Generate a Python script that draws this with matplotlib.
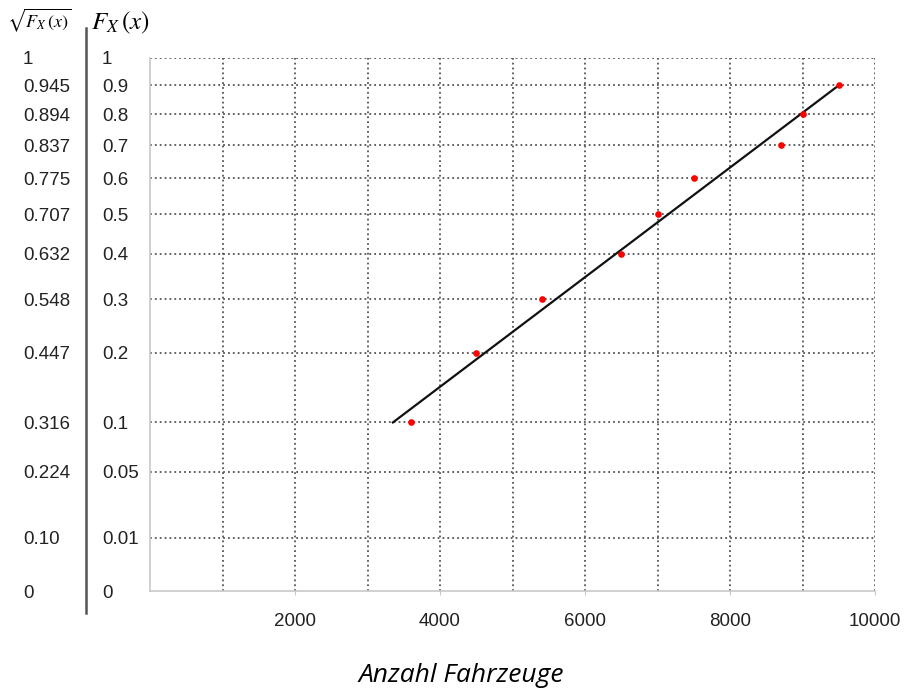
import numpy as np
import matplotlib
matplotlib.use("Agg")
import matplotlib.pyplot as plt
from matplotlib.transforms import blended_transform_factory, ScaledTranslation

# --- Datos ---
fahrzeuge = [3600, 4500, 5400, 6500, 7000, 7500, 8700, 9000, 9500]
f_werte = [0.1, 0.2, 0.3, 0.4, 0.5, 0.6, 0.7, 0.8, 0.9]

# Ausgleichsgerade (im sqrt-Massstab)
gerade_x = [3350, 9500]
gerade_f = [0.1, 0.9]

# Achsenbeschriftung (F-Werte und deren Wurzel)
y_ticks_f = [1, 0.9, 0.8, 0.7, 0.6, 0.5, 0.4, 0.3, 0.2, 0.1, 0.05, 0.01, 0]
y_labels_f = ['1', '0.9', '0.8', '0.7', '0.6', '0.5', '0.4', '0.3', '0.2', '0.1', '0.05', '0.01', '0']
y_labels_sqrt = ['1', '0.945', '0.894', '0.837', '0.775', '0.707', '0.632', '0.548',
                 '0.447', '0.316', '0.224', '0.10', '0']
x_ticks = [2000, 4000, 6000, 8000, 10000]
x_grid = [1000, 2000, 3000, 4000, 5000, 6000, 7000, 8000, 9000, 10000]

plt.rcParams['font.family'] = ['Liberation Sans', 'DejaVu Sans']
plt.rcParams['mathtext.fontset'] = 'stix'

fig = plt.figure(figsize=(9.06, 6.89), dpi=100)
ax = fig.add_axes([150 / 906, 1 - 591 / 689, 725 / 906, 533 / 689])

ax.set_xlim(0, 10000)
ax.set_ylim(0, 1)

# --- Gitter ---
grid_style = dict(color='#555555', linestyle=(0, (1, 1.7)), linewidth=1.3, zorder=1)
for xv in x_grid:
    ax.axvline(xv, **grid_style)
for fv in y_ticks_f:
    if fv > 0:
        ax.axhline(np.sqrt(fv), **grid_style)

for side in ['top', 'right']:
    ax.spines[side].set_visible(False)
for side in ['left', 'bottom']:
    ax.spines[side].set_color('#c8c8c8')
    ax.spines[side].set_linewidth(1.2)

# --- Daten ---
ax.plot(gerade_x, np.sqrt(gerade_f), color='#111111', linewidth=1.6, zorder=3)
ax.plot(fahrzeuge, np.sqrt(f_werte), 'o', color='#ff0000', markersize=4.8,
        markeredgewidth=0, zorder=4)

# --- Achsen ---
ax.set_xticks(x_ticks)
ax.set_xticklabels([str(v) for v in x_ticks], fontsize=13.5, color='#222222')
ax.tick_params(axis='x', length=3, color='#c8c8c8', pad=13)
ax.set_yticks([])

# Beschriftung links: Grundlinie um halbe Ziffernhoehe unter der Gitterlinie
trans = blended_transform_factory(fig.transFigure, ax.transData) + \
    ScaledTranslation(0, -6.5 / 100, fig.dpi_scale_trans)
for fv, lab_s, lab_f in zip(y_ticks_f, y_labels_sqrt, y_labels_f):
    yv = np.sqrt(fv)
    ax.text(23 / 906, yv, lab_s, transform=trans, ha='left', va='baseline',
            fontsize=13.5, color='#222222', clip_on=False)
    ax.text(102 / 906, yv, lab_f, transform=trans, ha='left', va='baseline',
            fontsize=13.5, color='#222222', clip_on=False)

# Trennlinie zwischen den beiden Skalen
fig.add_artist(plt.Line2D([86 / 906, 86 / 906], [1 - 28 / 689, 1 - 613 / 689],
                          transform=fig.transFigure, color='#555555', linewidth=1.8))

fig.text(39 / 906, 1 - 20 / 689, r'$\sqrt{F_X\,(x)}$', ha='center', va='center', fontsize=13)
fig.text(120 / 906, 1 - 23 / 689, r'$F_X\,(x)$', ha='center', va='center', fontsize=18)

fig.text(461 / 906, 1 - 682 / 689, 'Anzahl Fahrzeuge', ha='center', va='baseline',
         fontsize=19, style='italic', family=['Open Sans', 'DejaVu Sans'])

fig.savefig('out.png', dpi=100)
plt.close(fig)
